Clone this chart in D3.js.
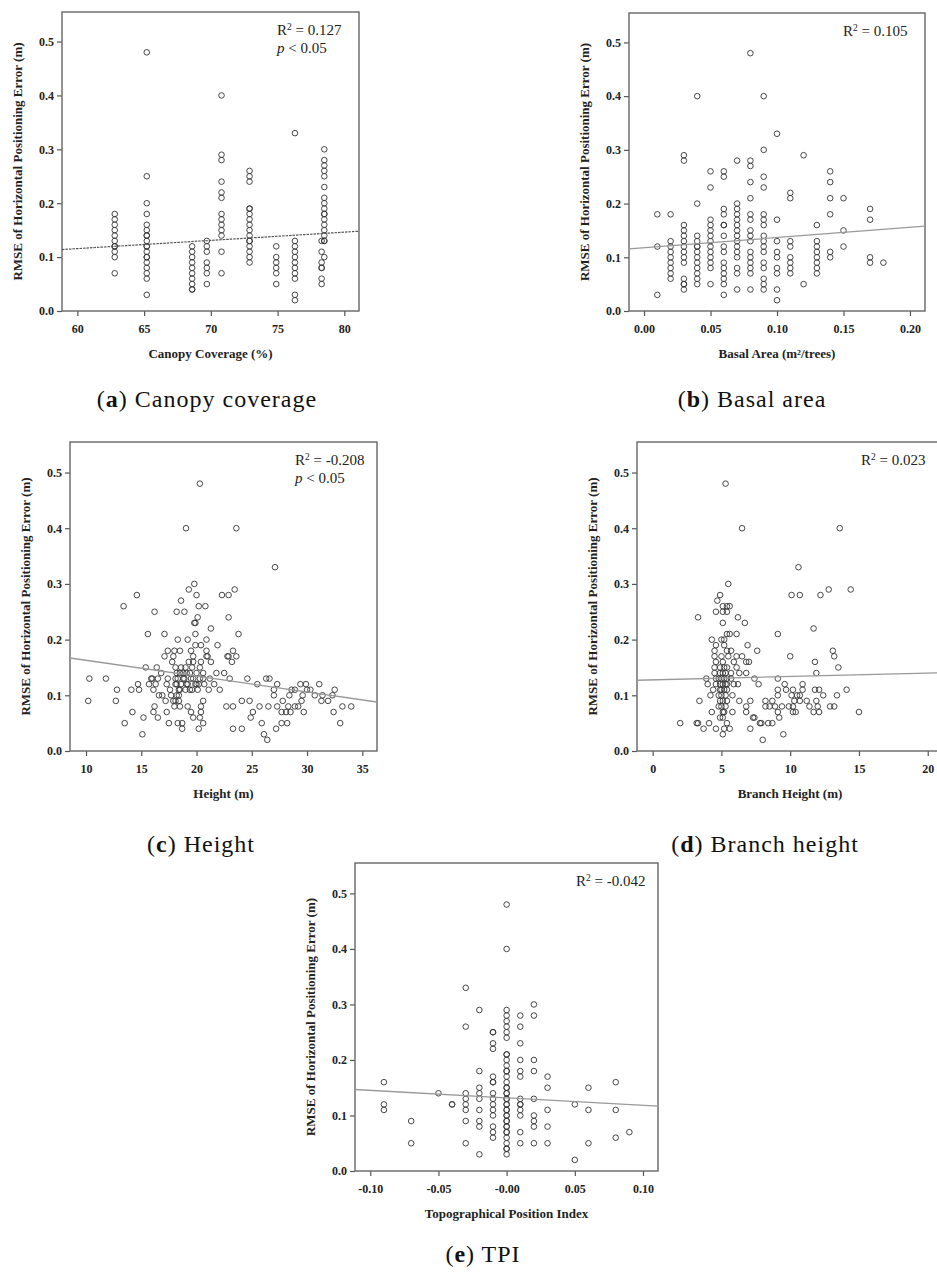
<!DOCTYPE html>
<html>
<head>
<meta charset="utf-8">
<script src="https://cdn.jsdelivr.net/npm/d3@7"></script>
<style>
  body { margin: 0; background: #fff; }
  svg text { font-family: "Liberation Serif", "Times New Roman", serif; }
</style>
</head>
<body>
<svg id="fig" width="937" height="1276"></svg>
<script>
// shared y axis
const yTicks = [0, 0.1, 0.2, 0.3, 0.4, 0.5];
const yTitle = "RMSE of Horizontal Positioning Error (m)";

// (a) canopy coverage: [x, [y values]]
const canopyCols = [
  [62.8, [0.18, 0.17, 0.16, 0.15, 0.14, 0.13, 0.12, 0.12, 0.11, 0.10, 0.07]],
  [65.2, [0.48, 0.25, 0.20, 0.18, 0.16, 0.15, 0.14, 0.14, 0.13, 0.12, 0.12, 0.11, 0.10, 0.10, 0.09, 0.08, 0.07, 0.06, 0.03]],
  [68.6, [0.12, 0.11, 0.10, 0.09, 0.08, 0.07, 0.06, 0.05, 0.04, 0.04]],
  [69.7, [0.13, 0.12, 0.11, 0.09, 0.08, 0.07, 0.05]],
  [70.8, [0.40, 0.29, 0.28, 0.24, 0.22, 0.21, 0.18, 0.17, 0.16, 0.15, 0.14, 0.11, 0.07]],
  [72.9, [0.26, 0.25, 0.24, 0.19, 0.19, 0.18, 0.17, 0.16, 0.15, 0.14, 0.13, 0.13, 0.12, 0.11, 0.10, 0.09]],
  [74.9, [0.12, 0.10, 0.09, 0.08, 0.07, 0.05]],
  [76.3, [0.33, 0.13, 0.12, 0.11, 0.10, 0.09, 0.08, 0.07, 0.06, 0.03, 0.02]],
  [78.5, [0.30, 0.28, 0.27, 0.26, 0.25, 0.23, 0.21, 0.20, 0.19, 0.18, 0.18, 0.17, 0.16, 0.15, 0.14, 0.13, 0.13, 0.10]],
  [78.3, [0.13, 0.11, 0.09, 0.08, 0.08, 0.06, 0.05]]
];
const canopyTicks = [60, 65, 70, 75, 80];
const canopyFit = [[58.85, 0.114], [81.1, 0.148]];

// (b) basal area
const basalCols = [
  [0.01, [0.18, 0.12, 0.03]],
  [0.02, [0.18, 0.13, 0.12, 0.11, 0.10, 0.09, 0.08, 0.07, 0.06]],
  [0.03, [0.29, 0.28, 0.16, 0.15, 0.14, 0.13, 0.12, 0.11, 0.10, 0.09, 0.06, 0.05, 0.05, 0.04]],
  [0.04, [0.40, 0.20, 0.14, 0.13, 0.12, 0.12, 0.11, 0.10, 0.09, 0.08, 0.07, 0.06, 0.05]],
  [0.05, [0.26, 0.23, 0.17, 0.16, 0.15, 0.14, 0.13, 0.12, 0.11, 0.10, 0.09, 0.08, 0.05]],
  [0.06, [0.26, 0.25, 0.19, 0.18, 0.16, 0.16, 0.14, 0.12, 0.11, 0.09, 0.08, 0.07, 0.06, 0.05, 0.03]],
  [0.07, [0.28, 0.20, 0.19, 0.18, 0.17, 0.16, 0.15, 0.14, 0.13, 0.12, 0.11, 0.10, 0.08, 0.07, 0.04]],
  [0.08, [0.48, 0.28, 0.27, 0.24, 0.21, 0.18, 0.17, 0.15, 0.14, 0.13, 0.11, 0.10, 0.09, 0.08, 0.07, 0.04]],
  [0.09, [0.40, 0.30, 0.25, 0.23, 0.18, 0.17, 0.16, 0.14, 0.13, 0.12, 0.11, 0.09, 0.08, 0.06, 0.05, 0.04]],
  [0.10, [0.33, 0.17, 0.13, 0.11, 0.10, 0.08, 0.07, 0.04, 0.02]],
  [0.11, [0.22, 0.21, 0.13, 0.12, 0.10, 0.09, 0.08, 0.07]],
  [0.12, [0.29, 0.05]],
  [0.13, [0.16, 0.13, 0.12, 0.11, 0.10, 0.09, 0.08, 0.07]],
  [0.14, [0.26, 0.24, 0.21, 0.18, 0.11, 0.10]],
  [0.15, [0.21, 0.15, 0.12]],
  [0.17, [0.19, 0.17, 0.10, 0.09]],
  [0.18, [0.09]]
];
const basalTicks = [0, 0.05, 0.10, 0.15, 0.20];
const basalFit = [[-0.0113, 0.1155], [0.2113, 0.158]];

// (c) height: [y, [x values]]
const heightRows = [
  [0.48, [20.3]],
  [0.40, [19.05, 23.6]],
  [0.33, [27.1]],
  [0.30, [19.8]],
  [0.29, [19.3, 23.45]],
  [0.28, [14.6, 20.0, 22.3, 22.9]],
  [0.27, [18.6]],
  [0.26, [13.4, 20.2, 20.8]],
  [0.25, [16.2, 18.2, 18.9]],
  [0.24, [20.1, 22.9]],
  [0.23, [19.8, 19.9]],
  [0.22, [21.3]],
  [0.21, [15.6, 17.1, 19.9, 23.8]],
  [0.20, [18.3, 19.2, 20.9]],
  [0.19, [19.9, 20.4, 21.9]],
  [0.18, [17.4, 18.0, 18.5, 19.5, 20.9, 23.3]],
  [0.17, [17.1, 17.9, 19.7, 20.9, 21.0, 22.8, 22.9, 23.6]],
  [0.16, [17.8, 19.3, 19.7, 20.4, 21.3, 23.2]],
  [0.15, [15.4, 16.4, 18.1, 18.6, 19.0, 19.6, 20.3]],
  [0.14, [16.8, 18.2, 18.5, 18.8, 19.1, 19.4, 20.0, 20.6, 21.8, 22.5]],
  [0.13, [10.3, 11.8, 15.9, 16.0, 16.5, 17.4, 18.1, 18.3, 18.8, 18.9, 19.5, 19.7, 20.3, 20.6, 21.2, 23.0, 24.6, 26.3, 26.6]],
  [0.12, [14.7, 15.7, 16.3, 17.3, 18.1, 18.2, 18.6, 19.1, 19.2, 19.9, 20.0, 20.2, 20.7, 21.6, 25.5, 27.3, 29.4, 29.9, 31.1]],
  [0.11, [12.8, 14.1, 14.8, 16.1, 17.6, 18.4, 18.5, 19.0, 19.4, 19.6, 20.1, 21.1, 22.1, 27.0, 28.6, 28.9, 30.0, 30.3, 32.5]],
  [0.10, [16.6, 16.9, 17.7, 18.2, 18.4, 27.0, 28.4, 29.6, 30.7, 31.4, 32.3]],
  [0.09, [10.2, 12.7, 17.2, 17.9, 18.1, 18.4, 20.6, 24.1, 24.8, 27.8, 29.5, 31.3, 31.9]],
  [0.08, [16.2, 18.0, 18.5, 19.2, 20.4, 22.7, 23.3, 25.7, 26.5, 27.3, 28.3, 28.9, 29.2, 33.2, 34.0]],
  [0.07, [14.2, 16.1, 17.3, 19.5, 20.4, 25.1, 27.7, 28.1, 28.5, 29.7, 32.4]],
  [0.06, [15.2, 16.5, 19.7, 20.3, 24.9]],
  [0.05, [13.5, 17.5, 18.3, 18.7, 20.6, 25.9, 27.7, 28.2, 33.0]],
  [0.04, [18.7, 20.2, 23.3, 24.1, 27.2]],
  [0.03, [15.1, 26.1]],
  [0.02, [26.4]]
];
const heightTicks = [10, 15, 20, 25, 30, 35];
const heightFit = [[8.55, 0.167], [36.33, 0.088]];

// (d) branch height: [y, [x values]]
const branchRows = [
  [0.48, [5.3]],
  [0.40, [6.5, 13.6]],
  [0.33, [10.6]],
  [0.30, [5.5]],
  [0.29, [12.8, 14.4]],
  [0.28, [4.9, 10.1, 10.7, 12.2]],
  [0.27, [4.7]],
  [0.26, [5.1, 5.4, 5.6]],
  [0.25, [4.6, 5.1, 5.4]],
  [0.24, [3.3, 6.2]],
  [0.23, [5.1, 6.7]],
  [0.22, [11.7]],
  [0.21, [5.4, 5.6, 6.1, 9.1]],
  [0.20, [4.3, 5.0, 5.2]],
  [0.19, [4.6, 5.2, 6.9]],
  [0.18, [4.5, 5.4, 5.7, 7.6, 13.1]],
  [0.17, [4.5, 5.0, 5.5, 6.1, 6.5, 10.0, 13.2]],
  [0.16, [4.6, 5.1, 5.9, 6.8, 7.0, 11.8]],
  [0.15, [4.5, 4.9, 5.2, 5.4, 6.1, 13.5]],
  [0.14, [4.5, 4.9, 5.1, 5.3, 5.7, 6.3, 6.8, 11.9]],
  [0.13, [3.9, 4.6, 4.8, 5.0, 5.2, 5.4, 5.7, 7.4, 9.1]],
  [0.12, [4.0, 4.6, 4.9, 5.1, 5.3, 5.4, 5.9, 6.2, 7.7, 9.6, 10.9]],
  [0.11, [4.4, 4.9, 5.0, 5.2, 5.4, 9.1, 9.7, 10.2, 10.9, 11.8, 12.1, 14.1]],
  [0.10, [4.2, 4.8, 5.0, 5.3, 5.8, 9.1, 10.1, 10.5, 10.7, 12.4, 13.4]],
  [0.09, [3.4, 4.9, 5.1, 5.4, 6.3, 7.1, 8.2, 8.7, 10.3, 10.7, 11.2, 11.9]],
  [0.08, [4.8, 5.0, 5.3, 6.8, 8.2, 8.5, 8.9, 9.4, 9.9, 10.2, 11.4, 12.0, 12.9, 13.2]],
  [0.07, [4.3, 5.1, 5.2, 5.8, 6.8, 9.1, 10.2, 10.4, 11.7, 12.1, 15.0]],
  [0.06, [4.9, 5.1, 7.3, 7.4, 9.2]],
  [0.05, [2.0, 3.2, 3.3, 4.1, 5.4, 7.8, 7.9, 8.4, 8.7]],
  [0.04, [3.7, 4.6, 5.2, 5.6, 7.1]],
  [0.03, [5.1, 9.5]],
  [0.02, [8.0]]
];
const branchTicks = [0, 5, 10, 15, 20];
const branchFit = [[-1.14, 0.127], [21.11, 0.1405]];

// (e) topographical position index: [x, [y values]]
const tpiCols = [
  [-0.09, [0.16, 0.12, 0.11]],
  [-0.07, [0.09, 0.05]],
  [-0.05, [0.14]],
  [-0.04, [0.12, 0.12]],
  [-0.03, [0.33, 0.26, 0.14, 0.13, 0.12, 0.11, 0.09, 0.05]],
  [-0.02, [0.29, 0.18, 0.15, 0.14, 0.13, 0.11, 0.09, 0.08, 0.03]],
  [-0.01, [0.25, 0.25, 0.23, 0.22, 0.17, 0.16, 0.16, 0.14, 0.13, 0.12, 0.11, 0.10, 0.08, 0.07, 0.06]],
  [0.00, [0.48, 0.40, 0.29, 0.28, 0.27, 0.26, 0.25, 0.24, 0.21, 0.21, 0.20, 0.19, 0.18, 0.18, 0.17, 0.16, 0.15, 0.15, 0.14, 0.14, 0.13, 0.13, 0.12, 0.12, 0.11, 0.11, 0.10, 0.10, 0.09, 0.09, 0.08, 0.08, 0.07, 0.07, 0.06, 0.05, 0.04, 0.04, 0.03]],
  [0.01, [0.28, 0.26, 0.23, 0.20, 0.18, 0.17, 0.13, 0.12, 0.12, 0.11, 0.10, 0.07, 0.05]],
  [0.02, [0.30, 0.28, 0.20, 0.18, 0.13, 0.10, 0.09, 0.08, 0.05]],
  [0.03, [0.17, 0.15, 0.11, 0.08, 0.05]],
  [0.05, [0.12, 0.02]],
  [0.06, [0.15, 0.11, 0.05]],
  [0.08, [0.16, 0.11, 0.06]],
  [0.09, [0.07]]
];
const tpiTicks = [-0.10, -0.05, 0, 0.05, 0.10];
const tpiTickLabels = ["-0.10", "-0.05", "-0.00", "0.05", "0.10"];
const tpiFit = [[-0.1112, 0.1468], [0.111, 0.1167]];

const fromCols = cols => cols.flatMap(([x, ys]) => ys.map(y => [x, y]));
const fromRows = rows => rows.flatMap(([y, xs]) => xs.map(x => [x, y]));

const panels = [
  { letter: "a", caption: "Canopy coverage", xTitle: "Canopy Coverage (%)", r2: "0.127", p: true,
    pts: fromCols(canopyCols), ticks: canopyTicks, fmt: d3.format("d"), fit: canopyFit, dashed: true,
    left: 62, top: 12, right: 359, bottom: 311, xDomain: [58.85, 81.1], capX: 207, capY: 407 },
  { letter: "b", caption: "Basal area", xTitle: "Basal Area  (m\u00b2/trees)", r2: "0.105", p: false,
    pts: fromCols(basalCols), ticks: basalTicks, fmt: d3.format(".2f"), fit: basalFit,
    left: 629, top: 13, right: 925, bottom: 311, xDomain: [-0.0113, 0.2113], capX: 752, capY: 407 },
  { letter: "c", caption: "Height", xTitle: "Height (m)", r2: "-0.208", p: true,
    pts: fromRows(heightRows), ticks: heightTicks, fmt: d3.format("d"), fit: heightFit,
    left: 70, top: 442, right: 377, bottom: 751, xDomain: [8.55, 36.33], capX: 201, capY: 852 },
  { letter: "d", caption: "Branch height", xTitle: "Branch Height (m)", r2: "0.023", p: false,
    pts: fromRows(branchRows), ticks: branchTicks, fmt: d3.format("d"), fit: branchFit,
    left: 637, top: 442, right: 943, bottom: 751, xDomain: [-1.14, 21.11], capX: 765, capY: 852 },
  { letter: "e", caption: "TPI", xTitle: "Topographical Position Index", r2: "-0.042", p: false,
    pts: fromCols(tpiCols), ticks: tpiTicks, fmt: (d, i) => tpiTickLabels[i], fit: tpiFit,
    left: 355, top: 863, right: 658, bottom: 1171, xDomain: [-0.1112, 0.111], capX: 483, capY: 1262 }
];

const svg = d3.select("#fig");

function styleAxis(g) {
  g.select(".domain").remove();
  g.selectAll(".tick line").attr("stroke", "#555").attr("stroke-width", 1.2);
  g.selectAll(".tick text")
    .attr("fill", "#222")
    .style("font-family", "'Liberation Serif', serif")
    .style("font-weight", "bold")
    .style("font-size", "12px");
}

function drawPanel(p) {
  const g = svg.append("g");
  const x = d3.scaleLinear(p.xDomain, [p.left, p.right]);
  const y = d3.scaleLinear([0, 0.5548], [p.bottom, p.top]);

  g.append("g")
    .attr("transform", `translate(0,${p.bottom})`)
    .call(d3.axisBottom(x).tickValues(p.ticks).tickFormat(p.fmt).tickSizeOuter(0).tickSize(5).tickPadding(8))
    .call(styleAxis);
  g.append("g")
    .attr("transform", `translate(${p.left},0)`)
    .call(d3.axisLeft(y).tickValues(yTicks).tickFormat(d3.format(".1f")).tickSizeOuter(0).tickSize(5).tickPadding(3))
    .call(styleAxis);

  g.append("rect")
    .attr("x", p.left).attr("y", p.top)
    .attr("width", p.right - p.left).attr("height", p.bottom - p.top)
    .attr("fill", "none").attr("stroke", "#666").attr("stroke-width", 1.4);

  g.append("g").selectAll("circle")
    .data(p.pts)
    .join("circle")
    .attr("cx", d => x(d[0]))
    .attr("cy", d => y(d[1]))
    .attr("r", 2.8)
    .attr("fill", "none")
    .attr("stroke", "#333")
    .attr("stroke-width", 0.9);

  g.append("path")
    .attr("d", d3.line().x(d => x(d[0])).y(d => y(d[1]))(p.fit))
    .attr("fill", "none")
    .attr("stroke", p.dashed ? "#555" : "#999")
    .attr("stroke-width", p.dashed ? 1.2 : 1.3)
    .attr("stroke-dasharray", p.dashed ? "2.5,1" : null);

  // R² note
  const nx = p.right - 82;
  const r2 = g.append("text").attr("x", nx).attr("y", p.top + 23)
    .style("font-size", "15px").attr("fill", "#222");
  r2.append("tspan").text("R");
  r2.append("tspan").text("2").attr("dy", -5).style("font-size", "9.5px");
  r2.append("tspan").text(" = " + p.r2).attr("dy", 5);
  if (p.p) {
    const pt = g.append("text").attr("x", nx).attr("y", p.top + 41)
      .style("font-size", "15px").attr("fill", "#222");
    pt.append("tspan").text("p").style("font-style", "italic");
    pt.append("tspan").text(" < 0.05");
  }

  // axis titles
  g.append("text")
    .attr("x", (p.left + p.right) / 2).attr("y", p.bottom + 47)
    .attr("text-anchor", "middle")
    .style("font-weight", "bold").style("font-size", "13px").attr("fill", "#222")
    .text(p.xTitle);
  g.append("text")
    .attr("transform", `translate(${p.left - 40},${(p.top + p.bottom) / 2}) rotate(-90)`)
    .attr("text-anchor", "middle")
    .style("font-weight", "bold").style("font-size", "13px").attr("fill", "#222")
    .text(yTitle);

  // caption
  const cap = g.append("text")
    .attr("x", p.capX).attr("y", p.capY)
    .attr("text-anchor", "middle")
    .style("font-size", "24px").style("letter-spacing", "1px").attr("fill", "#111");
  cap.append("tspan").text("(");
  cap.append("tspan").text(p.letter).style("font-weight", "bold");
  cap.append("tspan").text(") " + p.caption);
}

panels.forEach(drawPanel);
</script>
</body>
</html>
